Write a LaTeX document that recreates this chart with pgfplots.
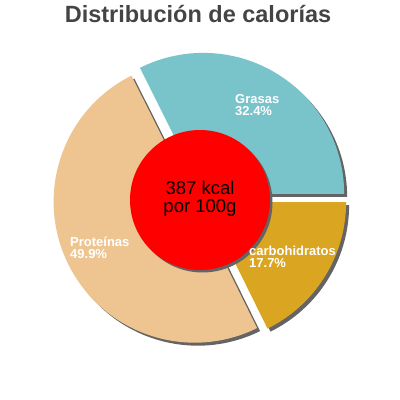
\documentclass[border=0pt]{standalone}
\usepackage{fontspec}
\setmainfont{Liberation Sans}
\usepackage{pgfplots}
\pgfplotsset{compat=1.18}

\definecolor{grasas}{RGB}{121,195,203}
\definecolor{prot}{RGB}{238,197,145}
\definecolor{carbo}{RGB}{218,165,32}
\definecolor{shadowgray}{RGB}{100,100,100}
\definecolor{titlegray}{RGB}{68,68,68}
\tikzset{lbl/.style={anchor=base west, inner sep=0pt, text=white, font=\bfseries\fontsize{13}{14}\selectfont}}

% shares of the calories (%)
\def\pG{32.4}
\def\pP{49.9}
\def\pC{17.7}
\pgfmathsetmacro\aG{\pG*3.6}
\pgfmathsetmacro\aP{\aG+\pP*3.6}
\pgfmathsetmacro\mG{\aG/2}
\pgfmathsetmacro\mP{(\aG+\aP)/2}
\pgfmathsetmacro\mC{(\aP+360)/2}
\def\R{141pt}
\def\d{6pt}

\begin{document}
\begin{tikzpicture}
\begin{axis}[
  x=1pt, y=1pt,
  xmin=0, xmax=400, ymin=0, ymax=400,
  hide axis, clip=false
]
% shadows
\fill[shadowgray, shift={(\mG:\d)}, shift={(3pt,-3pt)}] (axis cs:200,201) -- ++(0:\R) arc[start angle=0, end angle=\aG, radius=\R] -- cycle;
\fill[shadowgray, shift={(\mP:\d)}, shift={(3pt,-3pt)}] (axis cs:200,201) -- ++(\aG:\R) arc[start angle=\aG, end angle=\aP, radius=\R] -- cycle;
\fill[shadowgray, shift={(\mC:\d)}, shift={(3pt,-3pt)}] (axis cs:200,201) -- ++(\aP:\R) arc[start angle=\aP, end angle=360, radius=\R] -- cycle;
% slices
\fill[grasas, shift={(\mG:\d)}] (axis cs:200,201) -- ++(0:\R) arc[start angle=0, end angle=\aG, radius=\R] -- cycle;
\fill[prot, shift={(\mP:\d)}] (axis cs:200,201) -- ++(\aG:\R) arc[start angle=\aG, end angle=\aP, radius=\R] -- cycle;
\fill[carbo, shift={(\mC:\d)}] (axis cs:200,201) -- ++(\aP:\R) arc[start angle=\aP, end angle=360, radius=\R] -- cycle;
% centre disc
\fill[shadowgray] (axis cs:202.5,197.5) circle[radius=70pt];
\fill[red] (axis cs:200,200) circle[radius=70pt];

\node[anchor=base, font=\fontsize{18.5}{20}\selectfont] at (axis cs:200,205) {387 kcal};
\node[anchor=base, font=\fontsize{18.5}{20}\selectfont] at (axis cs:200,187) {por 100g};

\node[lbl] at (axis cs:235,296) {Grasas};
\node[lbl] at (axis cs:235,284) {32.4\%};
\node[lbl] at (axis cs:70,153) {Proteínas};
\node[lbl] at (axis cs:70,141) {49.9\%};
\node[lbl] at (axis cs:249,144) {carbohidratos};
\node[lbl] at (axis cs:249,132) {17.7\%};

\node[anchor=base, text=titlegray, font=\bfseries\fontsize{23.5}{28}\selectfont] at (axis cs:198,377) {Distribución de calorías};
\end{axis}
\pgfresetboundingbox
\path (0,0) rectangle (400pt,400pt);
\end{tikzpicture}
\end{document}
